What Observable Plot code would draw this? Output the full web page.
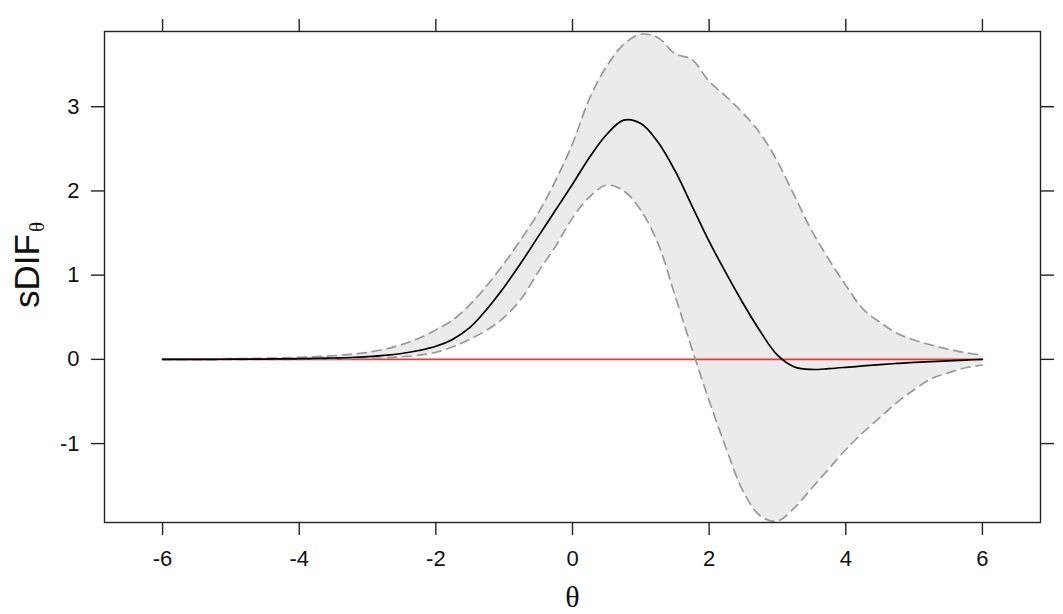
<!DOCTYPE html>
<html><head><meta charset="utf-8">
<script src="https://cdn.jsdelivr.net/npm/d3@7"></script>
<script src="https://cdn.jsdelivr.net/npm/@observablehq/plot@0.6"></script>
<style>body{margin:0;background:#fff}</style>
</head><body><div id="chart"></div>
<script>
const theta = [-6,-5.75,-5.5,-5.25,-5,-4.75,-4.5,-4.25,-4,-3.75,-3.5,-3.25,-3,-2.75,-2.5,-2.25,-2,-1.75,-1.5,-1.25,-1,-0.75,-0.5,-0.25,0,0.25,0.5,0.75,1,1.25,1.5,1.75,2,2.25,2.5,2.75,3,3.25,3.5,3.75,4,4.25,4.5,4.75,5,5.25,5.5,5.75,6];
const center = [0,0,0.001,0.001,0.002,0.003,0.004,0.006,0.008,0.011,0.016,0.022,0.032,0.047,0.07,0.105,0.155,0.24,0.38,0.60,0.86,1.15,1.46,1.77,2.08,2.40,2.67,2.84,2.80,2.58,2.24,1.82,1.40,1.02,0.66,0.33,0.05,-0.09,-0.12,-0.11,-0.095,-0.078,-0.062,-0.048,-0.036,-0.026,-0.017,-0.008,0];
const upper = [0.004,0.005,0.006,0.007,0.009,0.011,0.014,0.018,0.024,0.032,0.043,0.06,0.083,0.12,0.175,0.25,0.35,0.47,0.65,0.88,1.14,1.43,1.74,2.12,2.56,3.10,3.48,3.74,3.86,3.82,3.63,3.56,3.30,3.12,2.92,2.68,2.35,1.94,1.53,1.19,0.88,0.60,0.44,0.31,0.23,0.17,0.12,0.08,0.05];
const lower = [-0.004,-0.004,-0.004,-0.003,-0.003,-0.002,-0.001,0,0.001,0.002,0.004,0.007,0.011,0.018,0.03,0.05,0.085,0.15,0.24,0.35,0.50,0.72,1.04,1.34,1.68,1.93,2.07,2.00,1.77,1.38,0.76,0.12,-0.49,-1.06,-1.57,-1.86,-1.92,-1.76,-1.53,-1.30,-1.07,-0.87,-0.69,-0.51,-0.36,-0.23,-0.16,-0.10,-0.07];
const referenceLine = [0];
const xTicks = [-6,-4,-2,0,2,4,6];
const yTicks = [-1,0,1,2,3];
const xLabel = "θ";
const yLabel = "sDIF";
const ySub = "θ";

const rows = theta.map((t,i)=>({theta:t, center:center[i], upper:upper[i], lower:lower[i]}));
const font = "'Liberation Sans', Arial, Helvetica, sans-serif";
const serif = "'Liberation Serif', 'DejaVu Serif', serif";
const chart = Plot.plot({
  width:1063, height:614,
  marginLeft:104, marginRight:23, marginTop:31, marginBottom:92,
  style:{fontFamily:font, fontSize:"22px", background:"#fff", color:"#000", overflow:"visible"},
  x:{domain:[-6.85,6.85]},
  y:{domain:[-1.937,3.893]},
  marks:[
    Plot.areaY(rows,{x:"theta", y1:"lower", y2:"upper", fill:"#ebebeb", curve:"catmull-rom"}),
    Plot.ruleY(referenceLine,{x1:d3.min(theta), x2:d3.max(theta), stroke:"#e8383d", strokeWidth:1.9}),
    Plot.lineY(rows,{x:"theta", y:"upper", stroke:"#999", strokeWidth:1.7, strokeDasharray:"9,6", curve:"catmull-rom"}),
    Plot.lineY(rows,{x:"theta", y:"lower", stroke:"#999", strokeWidth:1.7, strokeDasharray:"9,6", curve:"catmull-rom"}),
    Plot.lineY(rows,{x:"theta", y:"center", stroke:"#000", strokeWidth:1.7, curve:"catmull-rom"}),
    Plot.frame({stroke:"#222", strokeWidth:1.4}),
    Plot.axisX(xTicks,{anchor:"bottom", tickSize:13, tickPadding:15, tickFormat:d=>String(d), label:null, stroke:"#222", strokeWidth:1.4, fill:"#111", fontSize:22}),
    Plot.axisX(xTicks,{anchor:"top", tickSize:13, tickFormat:()=>"", label:null, stroke:"#222", strokeWidth:1.4}),
    Plot.axisY(yTicks,{anchor:"left", tickSize:13, tickPadding:12, tickFormat:d=>String(d), label:null, stroke:"#222", strokeWidth:1.4, fill:"#111", fontSize:22}),
    Plot.axisY(yTicks,{anchor:"right", tickSize:13, tickFormat:()=>"", label:null, stroke:"#222", strokeWidth:1.4}),
    Plot.text([xLabel],{text:d=>d, frameAnchor:"bottom", dy:84, fontFamily:serif, fontSize:30, fill:"#111"}),
    Plot.text([yLabel],{text:d=>d, frameAnchor:"left", dx:-77, dy:-6, rotate:-90, textAnchor:"middle", fontSize:35, fill:"#111"}),
    Plot.text([ySub],{text:d=>d, frameAnchor:"left", dx:-67, dy:-45, rotate:-90, textAnchor:"start", fontFamily:serif, fontSize:21, fill:"#111"})
  ]
});
document.getElementById("chart").append(chart);
</script>
</body></html>
